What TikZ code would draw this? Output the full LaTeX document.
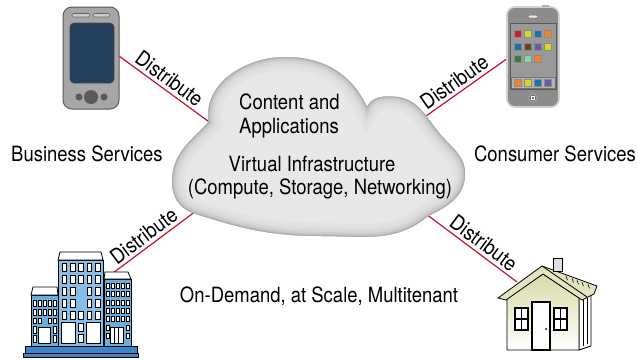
\documentclass[tikz,border=0pt]{standalone}
\usepackage{fontspec}
\setmainfont[FakeStretch=0.88]{TeX Gyre Heros}
\usepackage{tikz}
\usetikzlibrary{positioning}

\definecolor{linkred}{HTML}{C8102E}
\definecolor{pdascreen}{HTML}{243F5E}
\definecolor{towerblue}{HTML}{6AAEE0}
\definecolor{baseblue}{HTML}{3D85C6}
\definecolor{wallcream}{HTML}{DADAA8}
\definecolor{roofcream}{HTML}{E4E4C2}
\definecolor{appred}{HTML}{D7182A}
\definecolor{appyellow}{HTML}{D8D820}
\definecolor{appblue}{HTML}{1B72B2}
\definecolor{apporange}{HTML}{F0822A}
\definecolor{appbrown}{HTML}{6B4328}
\definecolor{apppurple}{HTML}{6A5BA8}
\definecolor{appgreen}{HTML}{3A7A3C}
\definecolor{appmint}{HTML}{8ED3A2}

\newcommand{\cloudpath}{(209,238) to[out=100,in=180] (285,303)
  to[out=0,in=115] (367,253)
  to[out=65,in=175] (398,263)
  to[out=-10,in=130] (440,226)
  to[out=-50,in=90] (465,186)
  to[out=-90,in=25] (428,144)
  to[out=-140,in=0] (322,124)
  to[out=180,in=-18] (193,147)
  to[out=160,in=-90] (172,178)
  to[out=90,in=-135] (209,238) -- cycle}

\begin{document}
\begin{tikzpicture}[
  x=1pt, y=1pt,
  txt/.style={font=\fontsize{21}{24}\selectfont, inner sep=0pt},
  dist/.style={font=\fontsize{21}{24}\selectfont, sloped, above, inner sep=3pt},
  link/.style={draw=linkred, line width=1.2pt},
  win/.style={fill=white, draw=black, line width=0.6pt},
  pane/.style={fill=white, draw=black, line width=1.3pt}
]
\useasboundingbox (0,0) rectangle (638,360);

\coordinate (pdaTip) at (119,304);
\coordinate (phoneTip) at (508,302);
\coordinate (officeTip) at (105,81);
\coordinate (houseTip) at (517,78);
\coordinate (cloudNW) at (212,236);
\coordinate (cloudNE) at (419,239);
\coordinate (cloudSW) at (196,149);
\coordinate (cloudSE) at (426,146);

\draw[link] (pdaTip) -- node[dist, pos=0.47] {Distribute} (cloudNW);
\draw[link] (cloudNE) -- node[dist, pos=0.47] {Distribute} (phoneTip);
\draw[link] (officeTip) -- node[dist, pos=0.5] {Distribute} (cloudSW);
\draw[link] (cloudSE) -- node[dist, pos=0.56] {Distribute} (houseTip);

\begin{scope}
  \clip \cloudpath;
  \fill[black!9] (150,100) rectangle (490,320);
  \foreach \w/\c in {26/11,19/13,13/16,8/20,4/26,1.5/33}
    \draw[line width=\w pt, black!\c] \cloudpath;
\end{scope}

\filldraw[fill=black!35, draw=black!65, line width=1pt, rounded corners=9pt] (63,251) rectangle (119,353);
\filldraw[fill=pdascreen, draw=black!70, line width=0.6pt, rounded corners=4pt] (70,277) rectangle (114,337);
\filldraw[fill=black!20, draw=black!60, line width=0.6pt, rounded corners=1.5pt] (72,343) rectangle (90,346.5);
\filldraw[fill=black!20, draw=black!60, line width=0.6pt, rounded corners=1.5pt] (93,343) rectangle (110,346.5);
\fill[black!65] (91,263) circle (7);
\fill[black!65] (79,263) circle (3.5);
\fill[black!65] (104,263) circle (3.5);

\filldraw[fill=black!45, draw=black!18, line width=1.6pt, rounded corners=8pt] (507,253) rectangle (559,353);
\fill[black!30] (542,353) rectangle (549,355);
\filldraw[fill=black!40, draw=black!65, line width=0.6pt] (510,271) rectangle (556,337);
\filldraw[fill=black!30, draw=black!55, line width=0.4pt] (511,272) rectangle (555,283);
\filldraw[fill=black!10, draw=black!60, line width=0.5pt, rounded corners=1.2pt] (528,342) rectangle (538,345);
\filldraw[fill=black!55, draw=black!30, line width=0.6pt] (533,262) circle (4);
\draw[white, line width=0.5pt] (531.5,260.5) rectangle (534.5,263.5);
\foreach \x/\y/\c in {518/326/appred, 528/326/appyellow, 538/326/appblue, 548/326/apporange,
                      518/313/appblue, 528/313/appbrown, 538/313/apppurple, 548/313/appyellow,
                      518/301/appgreen, 528/301/appmint, 538/301/apporange,
                      518/277/apporange, 528/277/appyellow, 538/277/appblue, 548/277/apppurple}
  \filldraw[fill=\c, draw=black!45, line width=0.4pt] (\x-3.5,\y-3.5) rectangle ++(7,7);

\begin{scope}[line width=0.8pt]
  \filldraw[fill=baseblue] (23,3) rectangle (138,6.5);
  \filldraw[fill=baseblue] (25,6.5) rectangle (137,14);
  \filldraw[fill=towerblue] (31,14) rectangle (58,65);
  \filldraw[fill=white] (31,65) -- (33,73) -- (57,73) -- (58,65) -- cycle;
  \filldraw[fill=towerblue!80] (58,14) rectangle (103,100);
  \filldraw[fill=white] (58,100) -- (60,108) -- (101,108) -- (103,100) -- cycle;
  \filldraw[fill=towerblue] (104,14) rectangle (131,81);
  \filldraw[fill=white] (104,81) -- (105,88) -- (128,88) -- (131,81) -- cycle;
\end{scope}
\foreach \y in {88.5,76.5,40.5}
  \foreach \x in {62,70.3,78.6,87,95.3}
    \filldraw[win] (\x,\y) rectangle ++(4.5,8.5);
\foreach \y in {64.5,52.5}
  \foreach \x in {62,70.3,87,95.3}
    \filldraw[win] (\x,\y) rectangle ++(4.5,8.5);
\filldraw[win] (61.5,17) rectangle (75,38);
\filldraw[win] (86.5,17) rectangle (100,38);
\filldraw[win] (78.6,29) rectangle ++(4.5,8);
\filldraw[win] (78.6,17.5) rectangle ++(4.5,8.5);
\foreach \y in {54,45}
  \foreach \x in {33,38.1,43.2,48.3,53.4}
    \filldraw[win] (\x,\y) rectangle ++(3,5.5);
\foreach \x in {33,38.1,48.3,53.4}
  \filldraw[win] (\x,36.5) rectangle ++(3,5.5);
\foreach \y in {27,18}
  \foreach \x in {33,53.4}
    \filldraw[win] (\x,\y) rectangle ++(3,6.5);
\filldraw[win] (37.8,17) rectangle (50.5,33);
\foreach \y in {71.7,63.3,55,46.7,38.3}
  \foreach \x in {106,111.2,116.4,121.6,126.6}
    \filldraw[win] (\x,\y) rectangle ++(3,5);
\foreach \y in {30,21.7}
  \foreach \x in {106,126.6}
    \filldraw[win] (\x,\y) rectangle ++(3,5);
\filldraw[win] (110,17) rectangle (123,33);
\draw[line width=0.5pt] (114.3,17) -- (114.3,33) (118.7,17) -- (118.7,33);

\begin{scope}[line width=0.8pt]
  \filldraw[fill=white] (579,10) -- (579,62) -- (591,68) -- (591,14) -- cycle;
  \draw[line width=0.5pt] (583,14) -- (583,60) (587,16) -- (587,62);
  \draw[top color=wallcream, bottom color=white] (507,10) -- (507,62) -- (543,86) -- (579,62) -- (579,10) -- cycle;
  \filldraw[fill=roofcream] (498,62) -- (542,94) -- (597,74) -- (594,66) -- (582,60) -- (543,86) -- (506,60) -- cycle;
  \draw (542,94) -- (587,63);
  \filldraw[fill=black!12] (553,89) rectangle (562,102);
  \foreach \x in {566,572,577,582,588}
    \draw[line width=0.6pt] (\x,{86-(\x-560)*0.37}) -- ++(1.5,-4);
  \filldraw[pane] (532,10) rectangle (550,58);
  \fill (546,31) circle (1);
  \foreach \x in {515,554} {
    \filldraw[pane] (\x,30) rectangle ++(13,22);
    \draw[line width=1.3pt] (\x+6.5,30) -- ++(0,22) (\x,41) -- ++(13,0);
  }
\end{scope}

\node[txt, anchor=base] (business) at (87,199) {Business Services};
\node[txt, anchor=base] (consumer) at (555,199) {Consumer Services};
\node[txt, anchor=base west] (content) at (239,251) {Content and};
\node[txt, anchor=base west] (apps) at ([yshift=-24pt]content.base west) {Applications};
\node[txt, anchor=base] (virtual) at (312,189) {Virtual Infrastructure};
\node[txt, anchor=base] (resources) at (320,166) {(Compute, Storage, Networking)};
\node[txt, anchor=base] (tagline) at (319,58) {On-Demand, at Scale, Multitenant};
\end{tikzpicture}
\end{document}
